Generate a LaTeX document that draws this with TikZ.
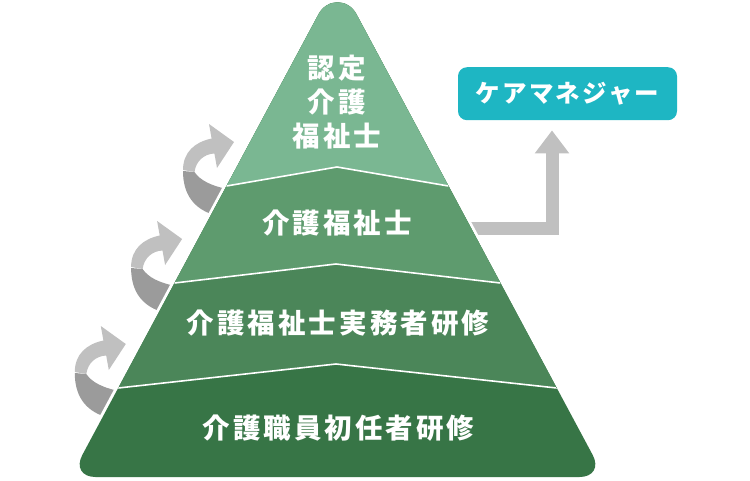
\documentclass[tikz,border=0pt]{standalone}
\usepackage{fontspec}
\newfontfamily\jpfont{Noto Sans CJK JP}
\usepackage{tikz}
\usetikzlibrary{arrows.meta}
\definecolor{tier1}{HTML}{7AB792}
\definecolor{tier2}{HTML}{5E9B6E}
\definecolor{tier3}{HTML}{4B8659}
\definecolor{tier4}{HTML}{377546}
\definecolor{caremgr}{HTML}{1EB6C3}
\definecolor{arrowlight}{HTML}{C0C0C0}
\definecolor{arrowdark}{HTML}{9B9B9B}
\tikzset{
  TierText/.style={
    text=white, inner sep=0pt, align=center,
    font={\fontsize{27.5}{34}\jpfont\bfseries\addfontfeature{LetterSpace=11}}
  },
  CareBox/.style={
    fill=caremgr, text=white, rounded corners=9pt,
    minimum width=219pt, minimum height=53pt, inner sep=0pt,
    font={\fontsize{24.5}{24.5}\jpfont\bfseries\addfontfeature{LetterSpace=9}}
  },
  TierLine/.style={draw=white, line width=1.6pt},
  BlockArrow/.style={
    draw=arrowlight, line width=13pt,
    -{Triangle[length=23pt,width=33pt]}, shorten >=10pt
  },
  % curled step arrow, origin on the left edge of the pyramid
  curl/.pic={
    \fill[arrowdark] (-43.5,-15) -- (-32,-14)
      .. controls (-26.5,-6) and (-16.5,0) .. (5.5,4) -- (-14,28.5)
      .. controls (-33,22) and (-43.5,8) .. (-43.5,-15) -- cycle;
    \fill[arrowlight] (7.5,-44) -- (-17.5,-62) -- (-14.9,-47.5)
      .. controls (-31.5,-44) and (-43.5,-34) .. (-43.5,-16)
      -- (-32,-14)
      .. controls (-30.5,-25) and (-22.5,-32) .. (-12.1,-32.5)
      -- (-9.5,-18) -- cycle;
  }
}
\newcommand{\PyramidOutline}{%
  (95.5,477) -- (579.5,477) .. controls (593.25,477) and (599.2,467.1) .. (592.7,455)
  -- (356.4,14.2) .. controls (347.9,-1.6) and (327.1,-1.6) .. (318.6,14.2)
  -- (82.3,455) .. controls (75.8,467.1) and (81.75,477) .. (95.5,477) -- cycle}

\begin{document}
\begin{tikzpicture}[x=1pt, y=-1pt, line join=miter]
  \useasboundingbox (0,0) rectangle (750,480);

  % layer edges on the left side
  \coordinate (edge1) at (226.5,186);
  \coordinate (edge2) at (174.6,283);
  \coordinate (edge3) at (118.3,388);
  \coordinate (barstart) at (460,228.5);

  % target box
  \node[CareBox] (caremgr) at (567.5,93.7) {ケアマネジャー};

  % arrows (behind the pyramid)
  \pic at (edge1) {curl};
  \pic at (edge2) {curl};
  \pic at (edge3) {curl};
  \draw[BlockArrow] (barstart) -| ([xshift=-15.5pt]caremgr.south);

  % pyramid
  \draw[white, line width=6pt] \PyramidOutline;
  \begin{scope}
    \clip \PyramidOutline;
    \fill[tier4] (0,0) rectangle (750,480);
    \fill[tier3] (0,-10) -- (0,388) -- (118.3,388) -- (336,364) -- (556.7,388)
      -- (750,388) -- (750,-10) -- cycle;
    \fill[tier2] (0,-10) -- (0,283) -- (174.6,283) -- (336,264) -- (500.4,283)
      -- (750,283) -- (750,-10) -- cycle;
    \fill[tier1] (0,-10) -- (0,186) -- (226.5,186) -- (337,167) -- (448.5,186)
      -- (750,186) -- (750,-10) -- cycle;
    \draw[TierLine] (226.5,186) -- (337,167) -- (448.5,186);
    \draw[TierLine] (174.6,283) -- (336,264) -- (500.4,283);
    \draw[TierLine] (118.3,388) -- (336,364) -- (556.7,388);
  \end{scope}

  % labels
  \node[TierText] (tier1text) at (337,102) {認定\\介護\\福祉士};
  \node[TierText] (tier2text) at (337,223) {介護福祉士};
  \node[TierText] (tier3text) at (338,323) {介護福祉士実務者研修};
  \node[TierText] (tier4text) at (338.5,428) {介護職員初任者研修};
\end{tikzpicture}
\end{document}
